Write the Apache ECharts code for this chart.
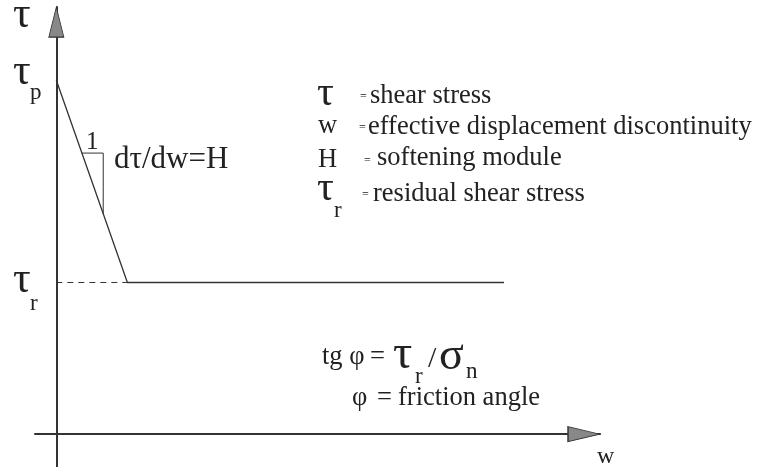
<!DOCTYPE html>
<html>
<head>
<meta charset="utf-8">
<script src="https://cdn.jsdelivr.net/npm/echarts@6/dist/echarts.min.js"></script>
<style>
  html, body { margin: 0; padding: 0; background: #fff; }
  #chart { width: 769px; height: 467px; }
</style>
</head>
<body>
<div id="chart"></div>
<script>
// softening law: tau drops from tau_p to tau_r over w_r, then stays at tau_r
const curveW = [0, 1, 6.3]
const curveTau = [7, 3, 3]
// dashed guide from the tau axis to the residual level
const dashW = [0, 1]
const dashTau = [3, 3]
// slope triangle (1 : H)
const triW = [0.36, 0.66, 0.66]
const triTau = [5.56, 5.56, 4.36]
// axis extents (arrows sit at the ends)
const wRange = [-0.3, 7.65]
const tauRange = [-0.65, 8.45]
const arrowW = [7.425, 0]
const arrowTau = [0, 8.15]

const FONT = '"Liberation Serif", "Times New Roman", serif'

const chart = echarts.init(document.getElementById('chart'))

function txt(x, y, text, size) {
  return {
    type: 'text',
    x: x,
    y: y,
    style: {
      text: text,
      font: size + 'px ' + FONT,
      fill: '#222',
      verticalAlign: 'middle'
    }
  }
}

const option = {
  animation: false,
  grid: { left: 35, right: 169, top: 7, bottom: 0 },
  xAxis: {
    type: 'value',
    min: wRange[0],
    max: wRange[1],
    axisLine: { onZero: true, lineStyle: { color: '#333', width: 2 } },
    axisTick: { show: false },
    axisLabel: { show: false },
    splitLine: { show: false }
  },
  yAxis: {
    type: 'value',
    min: tauRange[0],
    max: tauRange[1],
    axisLine: { onZero: true, lineStyle: { color: '#333', width: 2 } },
    axisTick: { show: false },
    axisLabel: { show: false },
    splitLine: { show: false }
  },
  series: [
    {
      type: 'line',
      data: curveW.map((w, i) => [w, curveTau[i]]),
      symbol: 'none',
      lineStyle: { color: '#333', width: 1.3 }
    },
    {
      type: 'line',
      data: dashW.map((w, i) => [w, dashTau[i]]),
      symbol: 'none',
      lineStyle: { color: '#333', width: 1, type: [6, 5] }
    },
    {
      type: 'line',
      data: triW.map((w, i) => [w, triTau[i]]),
      symbol: 'none',
      lineStyle: { color: '#333', width: 1 }
    },
    {
      type: 'scatter',
      data: [[arrowW[0], arrowTau[0]]],
      symbol: 'triangle',
      symbolSize: [15, 32],
      symbolRotate: -90,
      itemStyle: { color: '#888', borderColor: '#333', borderWidth: 1, opacity: 1 },
      z: 5
    },
    {
      type: 'scatter',
      data: [[arrowW[1], arrowTau[1]]],
      symbol: 'triangle',
      symbolSize: [15, 30],
      itemStyle: { color: '#888', borderColor: '#333', borderWidth: 1, opacity: 1 },
      z: 5
    }
  ],
  graphic: [
    // axis names
    txt(13, 15, 'τ', 44),
    txt(597, 457, 'w', 24),
    // peak and residual values
    txt(13, 72, 'τ', 44),
    txt(30, 93, 'p', 23),
    txt(13, 280, 'τ', 44),
    txt(30, 304, 'r', 23),
    // slope triangle labels
    txt(86, 142, '1', 25),
    txt(114, 160, 'dτ/dw=H', 31),
    // legend
    txt(317, 94, 'τ', 42),
    txt(360, 97, '=', 12),
    txt(370, 96, 'shear stress', 26.5),
    txt(318, 126, 'w', 26.5),
    txt(359, 128, '=', 12),
    txt(368, 127, 'effective displacement discontinuity', 26.5),
    txt(318, 160, 'H', 26.5),
    txt(364, 161, '=', 12),
    txt(377, 158, 'softening module', 26.5),
    txt(317, 189, 'τ', 42),
    txt(334, 211, 'r', 23),
    txt(362, 195, '=', 12),
    txt(373, 194, 'residual shear stress', 26.5),
    // friction relation
    txt(322, 357, 'tg φ', 26.5),
    txt(370, 357, '=', 26.5),
    txt(393, 355, 'τ', 48),
    txt(415, 377, 'r', 23),
    txt(428, 359, '/', 30),
    txt(439, 357, 'σ', 46),
    txt(466, 372, 'n', 23),
    txt(352, 398, 'φ', 26.5),
    txt(377, 398, '=', 26.5),
    txt(398, 398, 'friction angle', 26.5)
  ]
}

chart.setOption(option)
</script>
</body>
</html>
